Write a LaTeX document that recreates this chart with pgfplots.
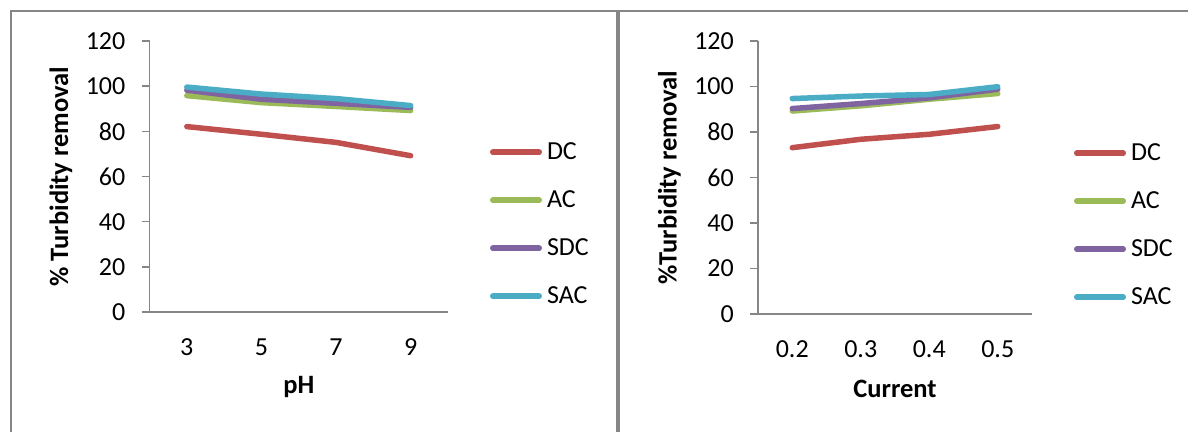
\documentclass[border=0pt]{standalone}
\usepackage{pgfplots}
\pgfplotsset{compat=1.18}
\usepackage{fontspec}
\setmainfont{Carlito}

\definecolor{dcred}{RGB}{192,80,77}
\definecolor{acgreen}{RGB}{155,187,89}
\definecolor{sdcpurple}{RGB}{128,100,162}
\definecolor{sacblue}{RGB}{75,172,198}
\definecolor{framegray}{RGB}{134,134,134}

\newcommand{\chartfont}{\fontsize{26}{31}\selectfont}
\newcommand{\labelfont}{\fontsize{26.5}{32}\selectfont\bfseries}

\pgfplotsset{
  panel/.style={
    scale only axis,
    axis x line*=bottom,
    axis y line*=left,
    axis line style={-, framegray, line width=1.6pt},
    xmin=-0.5, xmax=3.5,
    ymin=0, ymax=120,
    xtick={0,1,2,3},
    ytick={0,20,...,120},
    tick align=outside,
    major tick length=8pt,
    y tick style={framegray, line width=1.6pt},
    x tick style={draw=none},
    /pgf/number format/assume math mode=true,
    tick label style={font=\chartfont},
    yticklabel style={inner sep=0pt, xshift=-16pt},
    xticklabel style={inner sep=0pt, anchor=center, yshift=-27pt},
    label style={font=\labelfont},
    xlabel style={at={(axis description cs:0.5,0)}, anchor=center, yshift=-75pt},
    ylabel style={at={(axis description cs:0,0.5)}, anchor=center, yshift=88.5pt},
    legend cell align=left,
    legend image code/.code={
      \draw[##1, line width=5.5pt, line cap=round] (2.75pt,-1pt) -- (49.25pt,-1pt);
    },
    legend style={
      anchor=west, draw=none, fill=none,
      inner sep=0pt, outer sep=0pt,
      row sep=32pt, column sep=5pt,
      font=\chartfont,
      nodes={inner sep=0pt, text height=16pt, text depth=0pt},
    },
    every axis plot/.append style={line width=5.5pt, line join=round, line cap=round, mark=none},
  },
}

\begin{document}
\begin{tikzpicture}
  \useasboundingbox (0pt,0pt) rectangle (1188pt,431pt);
  \begin{scope}
    \clip (0pt,0pt) rectangle (1188pt,431pt);
    % chart frames
    \draw[framegray, line width=2pt] (11pt,-20pt) -- (11pt,420pt) -- (1200pt,420pt);
    \draw[framegray, line width=4pt] (618pt,-20pt) -- (618pt,420pt);
  \end{scope}

  % effect of pH
  \begin{axis}[panel,
      at={(149.5pt,119pt)}, anchor=south west,
      width=298.5pt, height=271pt,
      xticklabels={3,5,7,9},
      xlabel={pH},
      ylabel={\% Turbidity removal},
      legend style={at={(axis description cs:1.1407,0.3277)}},
    ]
    \addplot[dcred]     coordinates {(0,82.1) (1,78.7) (2,75.1) (3,69.2)};
    \addplot[acgreen]   coordinates {(0,95.8) (1,92.7) (2,91.0) (3,89.2)};
    \addplot[sdcpurple] coordinates {(0,98.2) (1,94.2) (2,92.4) (3,90.6)};
    \addplot[sacblue]   coordinates {(0,99.6) (1,96.5) (2,94.5) (3,91.4)};
    \legend{DC,AC,SDC,SAC}
  \end{axis}

  % effect of current
  \begin{axis}[panel,
      at={(758pt,117pt)}, anchor=south west,
      width=274pt, height=273pt,
      xticklabels={0.2,0.3,0.4,0.5},
      xlabel={Current},
      ylabel={\%Turbidity removal},
      legend style={at={(axis description cs:1.1533,0.329)}},
    ]
    \addplot[dcred]     coordinates {(0,73.1) (1,76.8) (2,79.0) (3,82.4)};
    \addplot[acgreen]   coordinates {(0,89.2) (1,91.5) (2,94.4) (3,96.9)};
    \addplot[sdcpurple] coordinates {(0,90.3) (1,92.5) (2,95.0) (3,98.8)};
    \addplot[sacblue]   coordinates {(0,94.7) (1,95.8) (2,96.5) (3,99.9)};
    \legend{DC,AC,SDC,SAC}
  \end{axis}
\end{tikzpicture}
\end{document}
